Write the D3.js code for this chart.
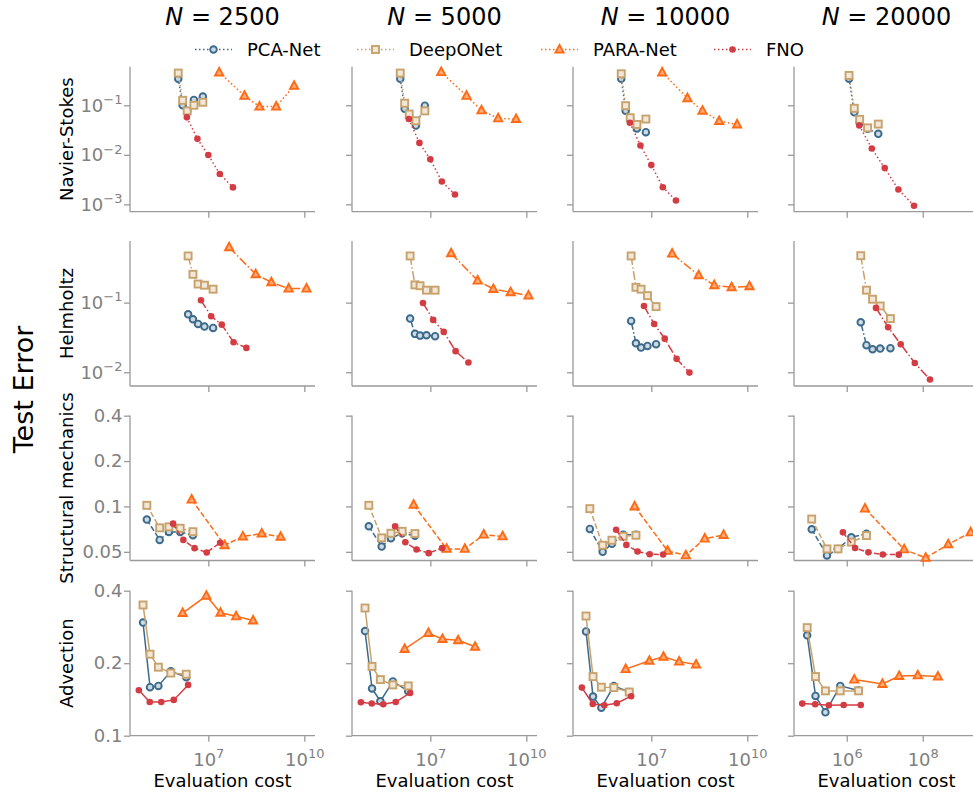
<!DOCTYPE html>
<html>
<head>
<meta charset="utf-8">
<script src="https://cdn.jsdelivr.net/npm/d3@7"></script>
<style>
  body { margin: 0; background: #fff; }
  svg { display: block; }
  text { font-family: "DejaVu Sans", sans-serif; }
</style>
</head>
<body>
<svg id="chart" width="973" height="792"></svg>
<script>
// ---- categories ----
const sampleSizes = [2500, 5000, 10000, 20000];
const problems = ["Navier-Stokes", "Helmholtz", "Structural mechanics", "Advection"];
const models = ["PCA-Net", "DeepONet", "PARA-Net", "FNO"];

// ---- tick values / labels ----
const xTicksWide = [1e7, 1e10];
const xTicksNarrow = [1e6, 1e8];
const yTicksNS = [1e-3, 1e-2, 1e-1];
const yTicksHelm = [1e-2, 1e-1];
const yTicksStruct = [0.05, 0.1, 0.2, 0.4];
const yTicksStructLabels = ["0.05", "0.1", "0.2", "0.4"];
const yTicksAdv = [0.1, 0.2, 0.4];
const yTicksAdvLabels = ["0.1", "0.2", "0.4"];

// ---- evaluation cost (same for every N) ----
const nsCostNet  = [1.15e6, 1.58e6, 2.19e6, 3.55e6, 6.76e6];   // PCA-Net & DeepONet
const nsCostFNO  = [2.14e6, 4.57e6, 1.0e7, 2.29e7, 5.89e7];
const nsCostPARA = [2.19e7, 1.35e8, 3.98e8, 1.32e9, 4.79e9];

const helmCostNet  = [2.34e6, 3.31e6, 4.79e6, 7.59e6, 1.41e7];
const helmCostFNO  = [5.89e6, 1.23e7, 2.63e7, 6.17e7, 1.55e8];
const helmCostPARA = [4.47e7, 3.02e8, 9.33e8, 3.24e9, 1.17e10];

const structCostNet  = [1.2e5, 3.02e5, 5.89e5, 1.32e6, 3.31e6];
const structCostFNO  = [7.94e5, 1.66e6, 3.72e6, 8.91e6, 2.34e7];
const structCostPARA = [3.02e6, 3.24e7, 1.2e8, 4.68e8, 1.82e9];

const advCostNet  = [9.12e4, 1.51e5, 2.75e5, 6.76e5, 2.04e6];
const advCostFNO  = [6.76e4, 1.48e5, 3.39e5, 8.32e5, 2.34e6];
const advCostPARA = [1.58e6, 8.71e6, 2.4e7, 7.41e7, 2.51e8];

// ---- test errors, one row per N = 2500, 5000, 10000, 20000 ----
const nsErrPCA = [
  [0.343, 0.100, 0.077, 0.128, 0.150],
  [0.343, 0.085, 0.0586, 0.039, 0.098],
  [0.343, 0.0776, 0.0527, 0.034, 0.0287],
  [0.343, 0.072, 0.0443, 0.0334, 0.0265]];
const nsErrDeepONet = [
  [0.447, 0.126, 0.077, 0.100, 0.115],
  [0.447, 0.110, 0.0665, 0.0487, 0.077],
  [0.432, 0.098, 0.056, 0.041, 0.0527],
  [0.400, 0.087, 0.052, 0.035, 0.0417]];
const nsErrPARA = [
  [0.46, 0.155, 0.094, 0.094, 0.247],
  [0.466, 0.155, 0.079, 0.0545, 0.0527],
  [0.46, 0.139, 0.0776, 0.048, 0.041],
  null];
const nsErrFNO = [
  [0.057, 0.021, 0.0099, 0.0041, 0.0022],
  [0.0527, 0.0174, 0.0081, 0.0029, 0.00158],
  [0.0443, 0.0154, 0.0062, 0.00222, 0.0012],
  [0.039, 0.0134, 0.0054, 0.0020, 0.00094]];

const helmErrPCA = [
  [0.068, 0.0577, 0.0494, 0.0453, 0.0433],
  [0.059, 0.0356, 0.0336, 0.034, 0.033],
  [0.0546, 0.0261, 0.0226, 0.0239, 0.0253],
  [0.0523, 0.0245, 0.0214, 0.0219, 0.0222]];
const helmErrDeepONet = [
  [0.468, 0.255, 0.185, 0.178, 0.156],
  [0.468, 0.180, 0.175, 0.151, 0.151],
  [0.468, 0.166, 0.156, 0.126, 0.0877],
  [0.472, 0.151, 0.112, 0.0896, 0.059]];
const helmErrPARA = [
  [0.624, 0.255, 0.196, 0.159, 0.159],
  [0.511, 0.207, 0.157, 0.141, 0.126],
  [0.505, 0.247, 0.178, 0.166, 0.172],
  null];
const helmErrFNO = [
  [0.108, 0.0638, 0.0483, 0.027, 0.0224],
  [0.099, 0.0565, 0.038, 0.0201, 0.0138],
  [0.0896, 0.0494, 0.0304, 0.0156, 0.0099],
  [0.084, 0.0444, 0.0253, 0.0136, 0.00786]];

const structErrPCA = [
  [0.0818, 0.060, 0.0678, 0.0678, 0.0644],
  [0.0739, 0.0542, 0.0615, 0.0664, 0.064],
  [0.0709, 0.050, 0.0565, 0.0648, 0.0648],
  [0.0706, 0.0473, 0.0523, 0.0624, 0.066]];
const structErrDeepONet = [
  [0.1017, 0.0721, 0.0732, 0.0717, 0.068],
  [0.1017, 0.0619, 0.0664, 0.0684, 0.0661],
  [0.0967, 0.0553, 0.0597, 0.0634, 0.0644],
  [0.0825, 0.0523, 0.0523, 0.058, 0.0641]];
const structErrPARA = [
  [0.111, 0.0553, 0.0632, 0.0661, 0.0629],
  [0.1027, 0.0523, 0.0523, 0.065, 0.0633],
  [0.100, 0.0507, 0.0474, 0.0612, 0.0647],
  [0.0967, 0.0519, 0.0456, 0.056, 0.0673]];
const structErrFNO = [
  [0.0769, 0.060, 0.0529, 0.0495, 0.0575],
  [0.0739, 0.0579, 0.0518, 0.049, 0.0529],
  [0.070, 0.0556, 0.0502, 0.0482, 0.048],
  [0.0673, 0.053, 0.0496, 0.048, 0.0479]];

const advErrPCA = [
  [0.295, 0.159, 0.161, 0.185, 0.175],
  [0.272, 0.157, 0.139, 0.168, 0.153],
  [0.271, 0.1453, 0.1307, 0.161, 0.152],
  [0.261, 0.1463, 0.125, 0.161, 0.154]];
const advErrDeepONet = [
  [0.349, 0.218, 0.1925, 0.182, 0.180],
  [0.339, 0.194, 0.171, 0.1625, 0.161],
  [0.314, 0.176, 0.159, 0.1584, 0.1518],
  [0.281, 0.176, 0.1535, 0.1535, 0.1535]];
const advErrPARA = [
  [0.323, 0.381, 0.324, 0.313, 0.301],
  [0.229, 0.267, 0.252, 0.249, 0.234],
  [0.189, 0.2046, 0.2126, 0.203, 0.1975],
  [0.171, 0.164, 0.177, 0.178, 0.176]];
const advErrFNO = [
  [0.1545, 0.138, 0.138, 0.1408, 0.1625],
  [0.1377, 0.136, 0.135, 0.138, 0.1505],
  [0.1584, 0.1355, 0.1338, 0.1364, 0.1459],
  [0.1359, 0.135, 0.1338, 0.1342, 0.1342]];

// ---- assemble per-problem lookup (built from the arrays above) ----
const costs = [
  [nsCostNet, nsCostNet, nsCostPARA, nsCostFNO],
  [helmCostNet, helmCostNet, helmCostPARA, helmCostFNO],
  [structCostNet, structCostNet, structCostPARA, structCostFNO],
  [advCostNet, advCostNet, advCostPARA, advCostFNO]];
const errors = [
  [nsErrPCA, nsErrDeepONet, nsErrPARA, nsErrFNO],
  [helmErrPCA, helmErrDeepONet, helmErrPARA, helmErrFNO],
  [structErrPCA, structErrDeepONet, structErrPARA, structErrFNO],
  [advErrPCA, advErrDeepONet, advErrPARA, advErrFNO]];

// ---- styling ----
const colors = ["#3b6a8c", "#c8a26c", "#ff6a14", "#d43c43"];
const lw = 1.5;
const rowDash = [
  `${1.5},${2.5}`,              // dotted
  `${9},${2.4},${1.5},${2.4}`,  // dash-dot
  `${5.5},${2.4}`,              // dashed
  null];                        // solid
const lighten = (c, t) => d3.interpolateRgb(c, "#ffffff")(t);

// ---- layout ----
const colLeft = [130, 352, 573, 794];
const panelW = 185;
const rowTop = [66.7, 241, 415.5, 590.7];
const panelH = 145;

const xDomainWide = [Math.pow(10, 4.553), Math.pow(10, 10.334)];
const xDomainNarrow = [Math.pow(10, 4.613), Math.pow(10, 9.48)];
const yDomains = [
  [Math.pow(10, -3.148), Math.pow(10, -0.2215)],
  [Math.pow(10, -2.197), Math.pow(10, -0.115)],
  [0.0438, 0.401],
  [0.1, 0.4]];
const yTickSets = [yTicksNS, yTicksHelm, yTicksStruct, yTicksAdv];
const yTickText = [null, null, yTicksStructLabels, yTicksAdvLabels];

const axisColor = "#9a9a9a";
const tickTextColor = "#808080";
const tickFont = 18;

const svg = d3.select("#chart");

// power-of-ten label as 10 with a superscript exponent
function powLabel(sel, v) {
  const e = Math.round(Math.log10(v));
  sel.text(null);
  sel.append("tspan").text("10");
  sel.append("tspan")
    .attr("dy", -7.5)
    .attr("font-size", 13)
    .text(e < 0 ? "\u2212" + Math.abs(e) : String(e));
}

function drawMarker(g, mi, x, y) {
  const c = colors[mi];
  if (mi === 0) {
    g.append("circle").attr("cx", x).attr("cy", y).attr("r", 3.3)
      .attr("fill", lighten(c, 0.75)).attr("stroke", c).attr("stroke-width", 1.9);
  } else if (mi === 1) {
    g.append("rect").attr("x", x - 3.5).attr("y", y - 3.5).attr("width", 7).attr("height", 7)
      .attr("fill", lighten(c, 0.75)).attr("stroke", c).attr("stroke-width", 1.9);
  } else if (mi === 2) {
    g.append("path")
      .attr("d", `M${x},${y - 4.6}L${x + 4.1},${y + 3}L${x - 4.1},${y + 3}Z`)
      .attr("fill", lighten(c, 0.45)).attr("stroke", c).attr("stroke-width", 1.9)
      .attr("stroke-linejoin", "miter");
  } else {
    g.append("circle").attr("cx", x).attr("cy", y).attr("r", 3.3).attr("fill", c);
  }
}

// ---- column titles ----
sampleSizes.forEach((n, ci) => {
  const t = svg.append("text")
    .attr("x", colLeft[ci] + panelW / 2).attr("y", 25)
    .attr("text-anchor", "middle").attr("font-size", 24).attr("fill", "#000");
  t.append("tspan").attr("font-style", "italic").text("N");
  t.append("tspan").text(" = " + n);
});

// ---- legend ----
const legendX = [195, 357, 541, 714];
const legendY = 49.5;
models.forEach((m, mi) => {
  const g = svg.append("g");
  g.append("line")
    .attr("x1", legendX[mi]).attr("x2", legendX[mi] + 37)
    .attr("y1", legendY).attr("y2", legendY)
    .attr("stroke", colors[mi]).attr("stroke-width", lw)
    .attr("stroke-dasharray", rowDash[0]);
  drawMarker(g, mi, legendX[mi] + 18.5, legendY);
  g.append("text")
    .attr("x", legendX[mi] + 52).attr("y", legendY + 6.3)
    .attr("font-size", 18).attr("fill", "#000").text(m);
});

// ---- overall y label ----
svg.append("text")
  .attr("transform", "translate(33,389.5) rotate(-90)")
  .attr("text-anchor", "middle").attr("font-size", 27).attr("fill", "#000")
  .text("Test Error");

// ---- panels ----
problems.forEach((prob, ri) => {
  const top = rowTop[ri];
  const y = d3.scaleLog().domain(yDomains[ri]).range([top + panelH, top]);

  svg.append("text")
    .attr("transform", `translate(72.5,${top + panelH / 2}) rotate(-90)`)
    .attr("text-anchor", "middle").attr("font-size", 18).attr("fill", "#000")
    .text(prob);

  sampleSizes.forEach((n, ci) => {
    const left = colLeft[ci];
    const narrow = ci === 3;
    const x = d3.scaleLog().domain(narrow ? xDomainNarrow : xDomainWide)
      .range([left, left + panelW]);

    const g = svg.append("g");

    // y axis
    const yAxis = d3.axisLeft(y).tickValues(yTickSets[ri]).tickSizeOuter(0).tickSize(6).tickPadding(1.5);
    const ya = g.append("g").attr("transform", `translate(${left},0)`).call(yAxis);
    ya.select(".domain").attr("stroke", axisColor).attr("stroke-width", 1.3)
      .attr("d", `M0,${top}V${top + panelH}`);
    ya.selectAll(".tick line").attr("stroke", axisColor).attr("stroke-width", 1.3);
    ya.selectAll(".tick text").attr("font-size", tickFont).attr("fill", tickTextColor)
      .attr("font-family", "DejaVu Sans");
    if (ci === 0) {
      if (yTickText[ri]) {
        ya.selectAll(".tick text").text((d, i) => yTickText[ri][i]);
      } else {
        ya.selectAll(".tick text").each(function (d) { powLabel(d3.select(this), d); });
      }
    } else {
      ya.selectAll(".tick text").remove();
    }

    // x axis
    const xAxis = d3.axisBottom(x).tickValues(narrow ? xTicksNarrow : xTicksWide)
      .tickSizeOuter(0).tickSize(6).tickPadding(5);
    const xa = g.append("g").attr("transform", `translate(0,${top + panelH})`).call(xAxis);
    xa.select(".domain").attr("stroke", axisColor).attr("stroke-width", 1.3)
      .attr("d", `M${left},0H${left + panelW}`);
    xa.selectAll(".tick line").attr("stroke", axisColor).attr("stroke-width", 1.3);
    if (ri === problems.length - 1) {
      xa.selectAll(".tick text").attr("font-size", tickFont).attr("fill", tickTextColor)
        .attr("font-family", "DejaVu Sans")
        .each(function (d) { powLabel(d3.select(this), d); });
      xa.selectAll(".tick text").attr("dy", "1.05em");
      g.append("text")
        .attr("x", left + panelW / 2).attr("y", top + panelH + 51)
        .attr("text-anchor", "middle").attr("font-size", 18).attr("fill", "#000")
        .text("Evaluation cost");
    } else {
      xa.selectAll(".tick text").remove();
    }

    // series
    models.forEach((m, mi) => {
      const errs = errors[ri][mi][ci];
      if (!errs) return;
      const cs = costs[ri][mi];
      const pts = cs.map((c, k) => [x(c), y(errs[k])]);
      const line = g.append("path")
        .attr("d", d3.line()(pts))
        .attr("fill", "none").attr("stroke", colors[mi]).attr("stroke-width", lw);
      if (rowDash[ri]) line.attr("stroke-dasharray", rowDash[ri]);
      pts.forEach(p => drawMarker(g, mi, p[0], p[1]));
    });
  });
});
</script>
</body>
</html>
